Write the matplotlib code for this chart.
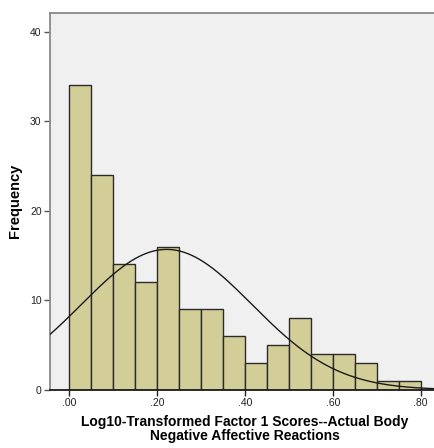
import matplotlib
matplotlib.use('Agg')  # Use a non-GUI backend
import matplotlib.pyplot as plt
import numpy as np

# Histogram bins (width .05) and counts per bin
bin_edges = [0.00, 0.05, 0.10, 0.15, 0.20, 0.25, 0.30, 0.35, 0.40,
             0.45, 0.50, 0.55, 0.60, 0.65, 0.70, 0.75, 0.80]
counts = [34, 24, 14, 12, 16, 9, 9, 6, 3, 5, 8, 4, 4, 3, 1, 1]
x_ticks = [0.0, 0.2, 0.4, 0.6, 0.8]
x_tick_labels = ['.00', '.20', '.40', '.60', '.80']
y_ticks = [0, 10, 20, 30, 40]

plt.rcParams['font.family'] = ['Liberation Sans', 'DejaVu Sans']

fig = plt.figure(figsize=(4.35, 4.48), dpi=100)
ax = fig.add_axes([0.1149, 0.1301, 0.8851, 0.8409])
ax.set_facecolor('#f0f0f0')

edges = np.array(bin_edges)
widths = np.diff(edges)
ax.bar(edges[:-1], counts, width=widths, align='edge',
       color='#d3ce97', edgecolor='#2b2b2b', linewidth=1.0, zorder=2)

# Normal curve scaled to the histogram (mean/sd from binned counts)
mids = (edges[:-1] + edges[1:]) / 2
n = np.sum(counts)
mean = np.sum(mids * np.array(counts)) / n
sd = np.sqrt(np.sum(np.array(counts) * (mids - mean) ** 2) / (n - 1))
xs = np.linspace(-0.06, 0.86, 400)
ys = n * widths[0] / (sd * np.sqrt(2 * np.pi)) * np.exp(-0.5 * ((xs - mean) / sd) ** 2)
ax.plot(xs, ys, color='#1a1a1a', linewidth=1.0, zorder=3)

ax.set_xlim(-0.044, 0.833)
ax.set_ylim(0, 42.1)
ax.set_xticks(x_ticks)
ax.set_xticklabels(x_tick_labels)
ax.set_yticks(y_ticks)

ax.tick_params(axis='both', direction='out', length=4, width=1,
               labelsize=7.5, colors='#222222', pad=2)
ax.tick_params(axis='y', color='#555555')

for side in ['left', 'top']:
    ax.spines[side].set_color('#8a8a8a')
    ax.spines[side].set_linewidth(1.3)
ax.spines['right'].set_visible(False)
ax.spines['bottom'].set_color('#1a1a1a')
ax.spines['bottom'].set_linewidth(1.3)
ax.spines['bottom'].set_zorder(4)

fig.text(0.034, 0.551, 'Frequency', rotation=90, ha='center', va='center',
         fontsize=10.5, fontweight='bold')
fig.text(0.562, 0.012, 'Log10-Transformed Factor 1 Scores--Actual Body\nNegative Affective Reactions',
         ha='center', va='bottom', fontsize=10, fontweight='bold',
         linespacing=0.95)

plt.savefig('out.png', dpi=100)
plt.close()
